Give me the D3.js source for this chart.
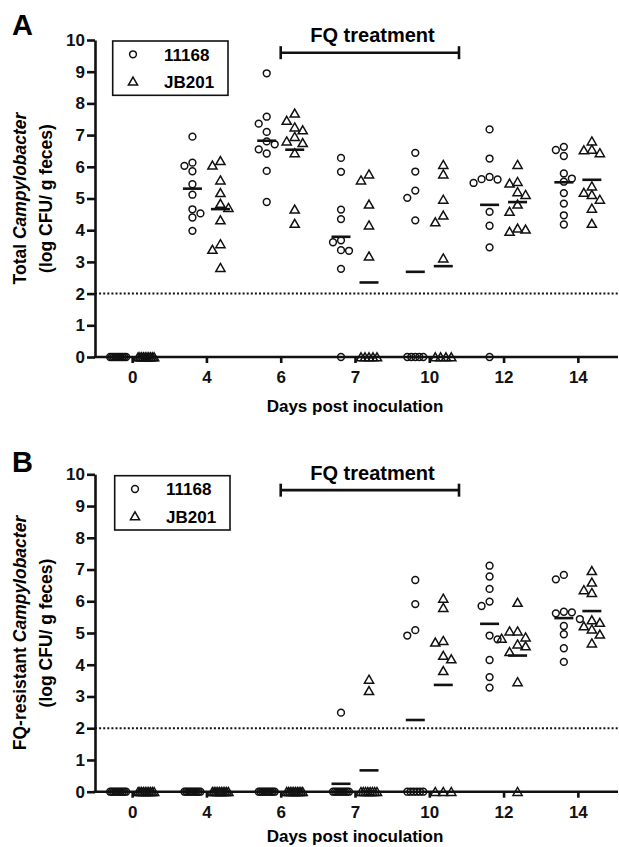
<!DOCTYPE html>
<html>
<head>
<meta charset="utf-8">
<script src="https://cdn.jsdelivr.net/npm/d3@7"></script>
<style>
  body { margin: 0; background: #fff; }
  svg { display: block; font-family: "Liberation Sans", Arial, Helvetica, sans-serif; }
  svg text { font-weight: bold; }
</style>
</head>
<body>
<svg id="chart" width="619" height="847"></svg>
<script>
// --- DATA (log CFU / g feces, one array per day) ---
const days = ["0", "4", "6", "7", "10", "12", "14"];
const strains = ["11168", "JB201"];

// Panel A: total Campylobacter
const total11168 = [
    [0, 0, 0, 0, 0, 0, 0, 0, 0, 0],
    [6.95, 6.13, 6.03, 5.86, 5.45, 5.12, 4.66, 4.53, 4.40, 3.98],
    [8.95, 7.58, 7.36, 7.10, 6.80, 6.71, 6.55, 6.42, 5.87, 4.89],
    [6.28, 5.84, 4.65, 4.35, 3.68, 3.62, 3.37, 3.35, 2.78, 0],
    [6.44, 5.85, 5.25, 5.02, 4.31, 0, 0, 0, 0, 0],
    [7.18, 6.26, 5.68, 5.61, 5.60, 5.49, 4.58, 4.14, 3.46, 0],
    [6.63, 6.53, 6.34, 5.79, 5.63, 5.53, 5.17, 4.84, 4.47, 4.18]
];
const totalJB201 = [
    [0, 0, 0, 0, 0, 0, 0, 0, 0, 0],
    [6.19, 6.05, 5.58, 5.18, 4.84, 4.71, 4.32, 3.57, 3.39, 2.82],
    [7.69, 7.46, 7.25, 7.16, 6.95, 6.81, 6.76, 6.44, 4.66, 4.21],
    [5.77, 5.58, 4.82, 4.16, 3.18, 0, 0, 0, 0, 0],
    [6.07, 5.77, 4.97, 4.47, 4.26, 3.12, 0, 0, 0, 0],
    [6.07, 5.53, 5.48, 5.21, 5.12, 4.82, 4.59, 4.06, 4.03, 3.96],
    [6.81, 6.55, 6.53, 6.44, 5.39, 5.19, 5.12, 4.97, 4.69, 4.21]
];

// Panel B: FQ-resistant Campylobacter
const resist11168 = [
    [0, 0, 0, 0, 0, 0, 0, 0, 0, 0],
    [0, 0, 0, 0, 0, 0, 0, 0, 0, 0],
    [0, 0, 0, 0, 0, 0, 0, 0, 0, 0],
    [2.49, 0, 0, 0, 0, 0, 0, 0, 0, 0],
    [6.67, 5.91, 5.09, 4.92, 0, 0, 0, 0, 0, 0],
    [7.12, 6.78, 6.39, 5.99, 5.85, 4.92, 4.80, 4.15, 3.61, 3.28],
    [6.83, 6.69, 5.67, 5.65, 5.62, 5.44, 5.22, 4.96, 4.52, 4.09]
];
const resistJB201 = [
    [0, 0, 0, 0, 0, 0, 0, 0, 0, 0],
    [0, 0, 0, 0, 0, 0, 0, 0, 0, 0],
    [0, 0, 0, 0, 0, 0, 0, 0, 0, 0],
    [3.54, 3.18, 0, 0, 0, 0, 0, 0, 0, 0],
    [6.09, 5.80, 4.76, 4.71, 4.29, 4.18, 3.81, 0, 0, 0],
    [5.96, 5.06, 5.06, 4.87, 4.83, 4.65, 4.59, 4.41, 3.46, 0],
    [6.96, 6.60, 6.36, 6.27, 5.41, 5.33, 5.22, 5.12, 4.96, 4.68]
];

const yTicks = [0, 1, 2, 3, 4, 5, 6, 7, 8, 9, 10];
const detectionLimit = 2;
const fqDays = ["6", "10"];

// --- LAYOUT ---
const svg = d3.select("#chart");
const axisLeftX = 95;
const x = d3.scalePoint().domain(days).range([95, 615]).padding(0.5);
const groupShift = [-14, 14];
const colStep = 8;
const minGap = 8.2;

const panels = [
    { label: "A", labelY: 35, top: 40, bottom: 357, title: "Total ", c: total11168, t: totalJB201,
      fqLevel: 9.6, xTitleGap: 55, legend: { x: 112.7, y: 41 } },
    { label: "B", labelY: 472, top: 474.3, bottom: 791.7, title: "FQ-resistant ", c: resist11168, t: resistJB201,
      fqLevel: 9.5, xTitleGap: 50, legend: { x: 114.7, y: 475.7 } }
];

const triPath = "M0,-4.2L4.6,3.8L-4.6,3.8Z";

function drawMarker(sel, strainIdx) {
    if (strainIdx === 0) {
        return sel.append("circle").attr("r", 3.4);
    }
    return sel.append("path").attr("d", triPath);
}

// simple column swarm, like Prism scatter-dot plots
function swarm(values, cx, y) {
    const placed = [];
    const counts = d3.rollup(values, v => v.length, d => d);
    counts.forEach((n, v) => {
        if (n >= 3) {
            const w = Math.min(8, (n - 1) * 4);
            d3.range(n).forEach(i => placed.push({ v, px: cx - w + 2 * w * i / (n - 1), py: y(v) }));
        }
    });
    const rest = values.filter(v => counts.get(v) < 3).sort((a, b) => b - a);
    rest.forEach(v => {
        const py = y(v);
        let left = placed.filter(p => p.px < cx - 1).length;
        let right = placed.filter(p => p.px > cx + 1).length;
        const order = [0];
        for (let k = 1; k <= 4; k++) {
            if (left <= right) order.push(-k, k); else order.push(k, -k);
        }
        for (const col of order) {
            const px = cx + col * colStep;
            const hit = placed.some(p => Math.abs(p.px - px) < colStep * 0.9 && Math.abs(p.py - py) < minGap);
            if (!hit) { placed.push({ v, px, py }); break; }
        }
    });
    return placed;
}

function drawPanel(p) {
    const y = d3.scaleLinear().domain([0, 10]).range([p.bottom, p.top]);
    const g = svg.append("g");

    g.append("text")
        .attr("x", 12).attr("y", p.labelY)
        .attr("font-size", 29)
        .text(p.label);

    // detection limit
    g.append("line")
        .attr("x1", axisLeftX).attr("x2", 618)
        .attr("y1", y(detectionLimit)).attr("y2", y(detectionLimit))
        .attr("stroke", "#111").attr("stroke-width", 2)
        .attr("stroke-dasharray", "2,2.1");

    // y axis
    const yAxis = g.append("g")
        .attr("transform", `translate(${axisLeftX},0)`)
        .call(d3.axisLeft(y).tickValues(yTicks).tickSize(8).tickPadding(2).tickSizeOuter(0));
    yAxis.attr("font-family", null).attr("font-size", 17);
    yAxis.selectAll("path, line").attr("stroke", "#111").attr("stroke-width", 2.6);
    yAxis.selectAll("text").attr("fill", "#111");

    // x axis
    const xAxis = g.append("g")
        .attr("transform", `translate(0,${p.bottom})`)
        .call(d3.axisBottom(x).tickSize(6).tickPadding(8));
    xAxis.attr("font-family", null).attr("font-size", 17);
    xAxis.select(".domain").remove();
    xAxis.selectAll("line").attr("stroke", "#111").attr("stroke-width", 2.6);
    xAxis.selectAll("text").attr("fill", "#111");
    g.append("line")
        .attr("x1", axisLeftX - 1.3).attr("x2", 618)
        .attr("y1", p.bottom).attr("y2", p.bottom)
        .attr("stroke", "#111").attr("stroke-width", 2.6);

    g.append("text")
        .attr("x", (95 + 615) / 2).attr("y", p.bottom + p.xTitleGap)
        .attr("text-anchor", "middle").attr("font-size", 17)
        .text("Days post inoculation");

    // y title
    const midY = (p.top + p.bottom) / 2;
    const t1 = g.append("text")
        .attr("transform", `translate(26,${midY}) rotate(-90)`)
        .attr("text-anchor", "middle").attr("font-size", 17.5).attr("font-weight", "bold");
    t1.append("tspan").attr("font-weight", "bold").text(p.title);
    t1.append("tspan").attr("font-weight", "bold").attr("font-style", "italic").text("Campylobacter");
    g.append("text")
        .attr("transform", `translate(51.5,${midY}) rotate(-90)`)
        .attr("text-anchor", "middle").attr("font-size", 17.5).attr("font-weight", "bold")
        .text("(log CFU/ g feces)");

    // FQ treatment bar
    const fx1 = x(fqDays[0]);
    const fx2 = x(fqDays[1]) + x.step() * 0.4;
    const fy = y(p.fqLevel);
    const fq = g.append("g").attr("stroke", "#111").attr("stroke-width", 2.6);
    fq.append("line").attr("x1", fx1).attr("x2", fx2).attr("y1", fy).attr("y2", fy);
    fq.append("line").attr("x1", fx1).attr("x2", fx1).attr("y1", fy - 6.5).attr("y2", fy + 6.5);
    fq.append("line").attr("x1", fx2).attr("x2", fx2).attr("y1", fy - 6.5).attr("y2", fy + 6.5);
    g.append("text")
        .attr("x", 372.5).attr("y", fy - 10.5)
        .attr("text-anchor", "middle").attr("font-size", 20)
        .text("FQ treatment");

    // legend
    const lg = g.append("g").attr("transform", `translate(${p.legend.x},${p.legend.y})`);
    lg.append("rect").attr("width", 115.3).attr("height", 54.3)
        .attr("fill", "none").attr("stroke", "#111").attr("stroke-width", 1.6);
    strains.forEach((s, i) => {
        const row = lg.append("g").attr("transform", `translate(20.3,${13.3 + i * 27})`);
        drawMarker(row, i).attr("fill", "none").attr("stroke", "#111").attr("stroke-width", 1.5);
        lg.append("text").attr("x", 51.3).attr("y", 19.5 + i * 27.5)
            .attr("font-size", 17).text(s);
    });

    // points and mean lines
    [p.c, p.t].forEach((series, si) => {
        series.forEach((vals, di) => {
            const cx = x(days[di]) + groupShift[si];
            const pts = swarm(vals, cx, y);
            const sel = g.append("g").selectAll("g").data(pts).join("g")
                .attr("transform", d => `translate(${d.px},${d.py})`);
            drawMarker(sel, si).attr("fill", "none").attr("stroke", "#111").attr("stroke-width", 1.5);
            const m = d3.mean(vals);
            g.append("line")
                .attr("x1", cx - 9.5).attr("x2", cx + 9.5)
                .attr("y1", y(m)).attr("y2", y(m))
                .attr("stroke", "#111").attr("stroke-width", 2.6);
        });
    });
}

panels.forEach(drawPanel);
</script>
</body>
</html>
